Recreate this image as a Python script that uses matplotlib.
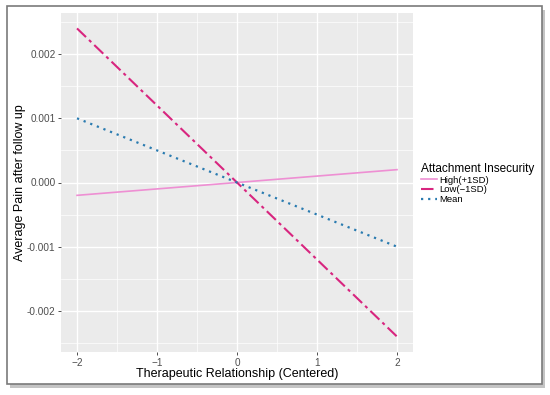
import numpy as np
import matplotlib
matplotlib.use("Agg")
import matplotlib.pyplot as plt
from matplotlib.patches import Rectangle
from matplotlib.ticker import MultipleLocator, FixedLocator

plt.rcParams['font.family'] = ['Liberation Sans', 'DejaVu Sans']

# data
x_vals = [-2, 2]
high_vals = [-0.0002, 0.0002]
low_vals = [0.0024, -0.0024]
mean_vals = [0.0010, -0.0010]

x_ticks = [-2, -1, 0, 1, 2]
x_ticklabels = ['\u22122', '\u22121', '0', '1', '2']
y_ticks = [-0.002, -0.001, 0.0, 0.001, 0.002]
y_ticklabels = ['-0.002', '-0.001', '0.000', '0.001', '0.002']

C_HIGH = '#EE8FD3'
C_LOW = '#D8257F'
C_MEAN = '#2A7BB0'

fig = plt.figure(figsize=(5.5, 3.95), dpi=100)

# outer frame with shadow
fig.patches.append(Rectangle((10/550, 1-388/395), 535/550, 378/395, transform=fig.transFigure,
                             facecolor='#C4C4C4', edgecolor='none', zorder=0))
fig.patches.append(Rectangle((7/550, 1-384/395), 535/550, 378/395, transform=fig.transFigure,
                             facecolor='white', edgecolor='#7A7A7A', lw=1.2, zorder=1))

ax = fig.add_axes([61/550, 1-352/395, 352/550, 339/395], zorder=2)
ax.set_facecolor('#EBEBEB')
for s in ax.spines.values():
    s.set_visible(False)

ax.set_xlim(-2.2, 2.2)
ax.set_ylim(-0.00264, 0.00264)
ax.xaxis.set_major_locator(FixedLocator(x_ticks))
ax.yaxis.set_major_locator(FixedLocator(y_ticks))
ax.xaxis.set_minor_locator(MultipleLocator(0.5))
ax.yaxis.set_minor_locator(MultipleLocator(0.0005))
ax.set_xticklabels(x_ticklabels)
ax.set_yticklabels(y_ticklabels)
ax.grid(True, which='major', color='white', lw=1.0)
ax.grid(True, which='minor', color='white', lw=0.5)
ax.set_axisbelow(True)
ax.tick_params(which='major', length=2.5, width=0.6, color='#333333', labelcolor='#4D4D4D',
               labelsize=7.2, pad=1.5)
ax.tick_params(which='minor', length=0)

ax.plot(x_vals, high_vals, color=C_HIGH, lw=1.2, label='High(+1SD)')
ax.plot(x_vals, low_vals, color=C_LOW, lw=1.5, dashes=(6, 2, 1.5, 2), label='Low(\u22121SD)')
ax.plot(x_vals, mean_vals, color=C_MEAN, lw=1.6, dashes=(1, 2.2), label='Mean')

ax.set_xlabel('Therapeutic Relationship (Centered)', fontsize=9)
ax.set_ylabel('Average Pain after follow up', fontsize=9)
ax.yaxis.set_label_coords((20 - 61) / 352, 0.5)
ax.yaxis.label.set_va('center')
ax.xaxis.set_label_coords(0.5, (352 - 374) / 339)
ax.xaxis.label.set_va('center')

leg = fig.legend(handles=ax.get_lines(), loc='upper left', bbox_to_anchor=(418/550, 1-160/395),
                 title='Attachment Insecurity', fontsize=6.8, title_fontsize=8.5,
                 frameon=False, handlelength=1.7, handletextpad=0.3, labelspacing=0.08,
                 borderaxespad=0, borderpad=0.3)
leg._legend_box.align = 'left'
leg.set_zorder(3)

fig.savefig('out.png', dpi=100)
